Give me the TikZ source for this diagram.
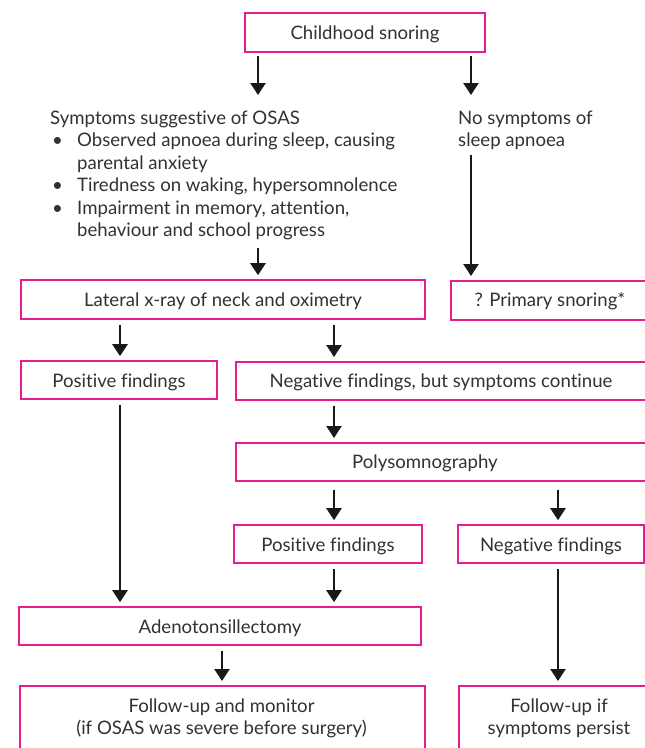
\documentclass[tikz,border=0pt]{standalone}
\usepackage{fontspec}
\setmainfont{Lato}[Ligatures=NoCommon]
\usetikzlibrary{arrows.meta}
\definecolor{boxpink}{RGB}{230,30,140}
\definecolor{txtgray}{RGB}{50,50,50}
\definecolor{arrblack}{RGB}{25,25,25}
\begin{document}
\begin{tikzpicture}[x=1pt,y=-1pt,
  every node/.style={inner sep=0pt, text=txtgray, font=\fontsize{18.6}{22.5}\selectfont},
  box/.style={draw=boxpink, line width=1.6pt, text height=16pt, text depth=1.5pt},
  txt/.style={text height=16pt, text depth=1.5pt, align=center},
  two/.style={align=center, font=\fontsize{18.6}{22}\selectfont},
  arr/.style={draw=arrblack, line width=2.4pt, -{Triangle[length=12pt,width=15pt]}, shorten <=5pt, shorten >=4pt}]
\clip (0,0) rectangle (645,748);
\fill[white] (0,0) rectangle (645,748);

% boxes
\node[box, minimum width=240, minimum height=39] (snore) at (365,32.5) {Childhood snoring};

\node[anchor=north west, align=left] (symp) at (50,110.5) {Symptoms suggestive of OSAS\\
\makebox[27pt][l]{\hspace{2pt}•}Observed apnoea during sleep, causing\\
\hspace*{27pt}parental anxiety\\
\makebox[27pt][l]{\hspace{2pt}•}Tiredness on waking, hypersomnolence\\
\makebox[27pt][l]{\hspace{2pt}•}Impairment in memory, attention,\\
\hspace*{27pt}behaviour and school progress};

\node[anchor=north west, align=left] (nosym) at (458,110.5) {No symptoms of\\sleep apnoea};

\node[box, minimum width=404, minimum height=39] (lat) at (223,299.5) {Lateral x-ray of neck and oximetry};
\node[box, minimum width=210, minimum height=39, anchor=north west] (prim) at (450,280) {};
\node[txt] (primt) at (550,299.5) {? Primary snoring*};

\node[box, minimum width=196, minimum height=38] (pos1) at (119,380) {Positive findings};
\node[box, minimum width=425, minimum height=38, anchor=north west] (neg1) at (235,361) {};
\node[txt] (neg1t) at (441,380) {Negative findings, but symptoms continue};

\node[box, minimum width=425, minimum height=38, anchor=north west] (poly) at (235,442) {};
\node[txt] (polyt) at (425,461) {Polysomnography};

\node[box, minimum width=188, minimum height=38] (pos2) at (328,544) {Positive findings};
\node[box, minimum width=186, minimum height=38] (neg2) at (551,544) {Negative findings};

\node[box, minimum width=402, minimum height=38] (adeno) at (220,626) {Adenotonsillectomy};

\node[box, minimum width=405, minimum height=90, anchor=north west] (fu1) at (19,685) {};
\node[two] (fu1t) at (221.5,718) {Follow-up and monitor\\(if OSAS was severe before surgery)};
\node[box, minimum width=210, minimum height=90, anchor=north west] (fu2) at (458,685) {};
\node[two] (fu2t) at (559,718) {Follow-up if\\symptoms persist};

% arrows
\draw[arr, shorten <=3pt, shorten >=15.5pt] (snore.south -| 258,0) -- (symp.north -| 258,0);
\draw[arr, shorten <=3pt, shorten >=15.5pt] (snore.south -| 471,0) -- (nosym.north -| 471,0);
\draw[arr, shorten <=7.5pt] (symp.south -| 258,0) -- (lat.north -| 258,0);
\draw[arr, shorten <=4.5pt] (nosym.south -| 471,0) -- (prim.north -| 471,0);
\draw[arr] (lat.south -| 120,0) -- (pos1.north -| 120,0);
\draw[arr] (lat.south -| 334,0) -- (neg1.north -| 334,0);
\draw[arr] (pos1.south -| 120,0) -- (adeno.north -| 120,0);
\draw[arr] (neg1.south -| 334,0) -- (poly.north -| 334,0);
\draw[arr, shorten <=8pt] (poly.south -| 334,0) -- (pos2.north -| 334,0);
\draw[arr, shorten <=8pt] (poly.south -| 558,0) -- (neg2.north -| 558,0);
\draw[arr] (pos2.south -| 334,0) -- (adeno.north -| 334,0);
\draw[arr] (adeno.south -| 222,0) -- (fu1.north -| 222,0);
\draw[arr] (neg2.south -| 558,0) -- (fu2.north -| 558,0);
\end{tikzpicture}
\end{document}
